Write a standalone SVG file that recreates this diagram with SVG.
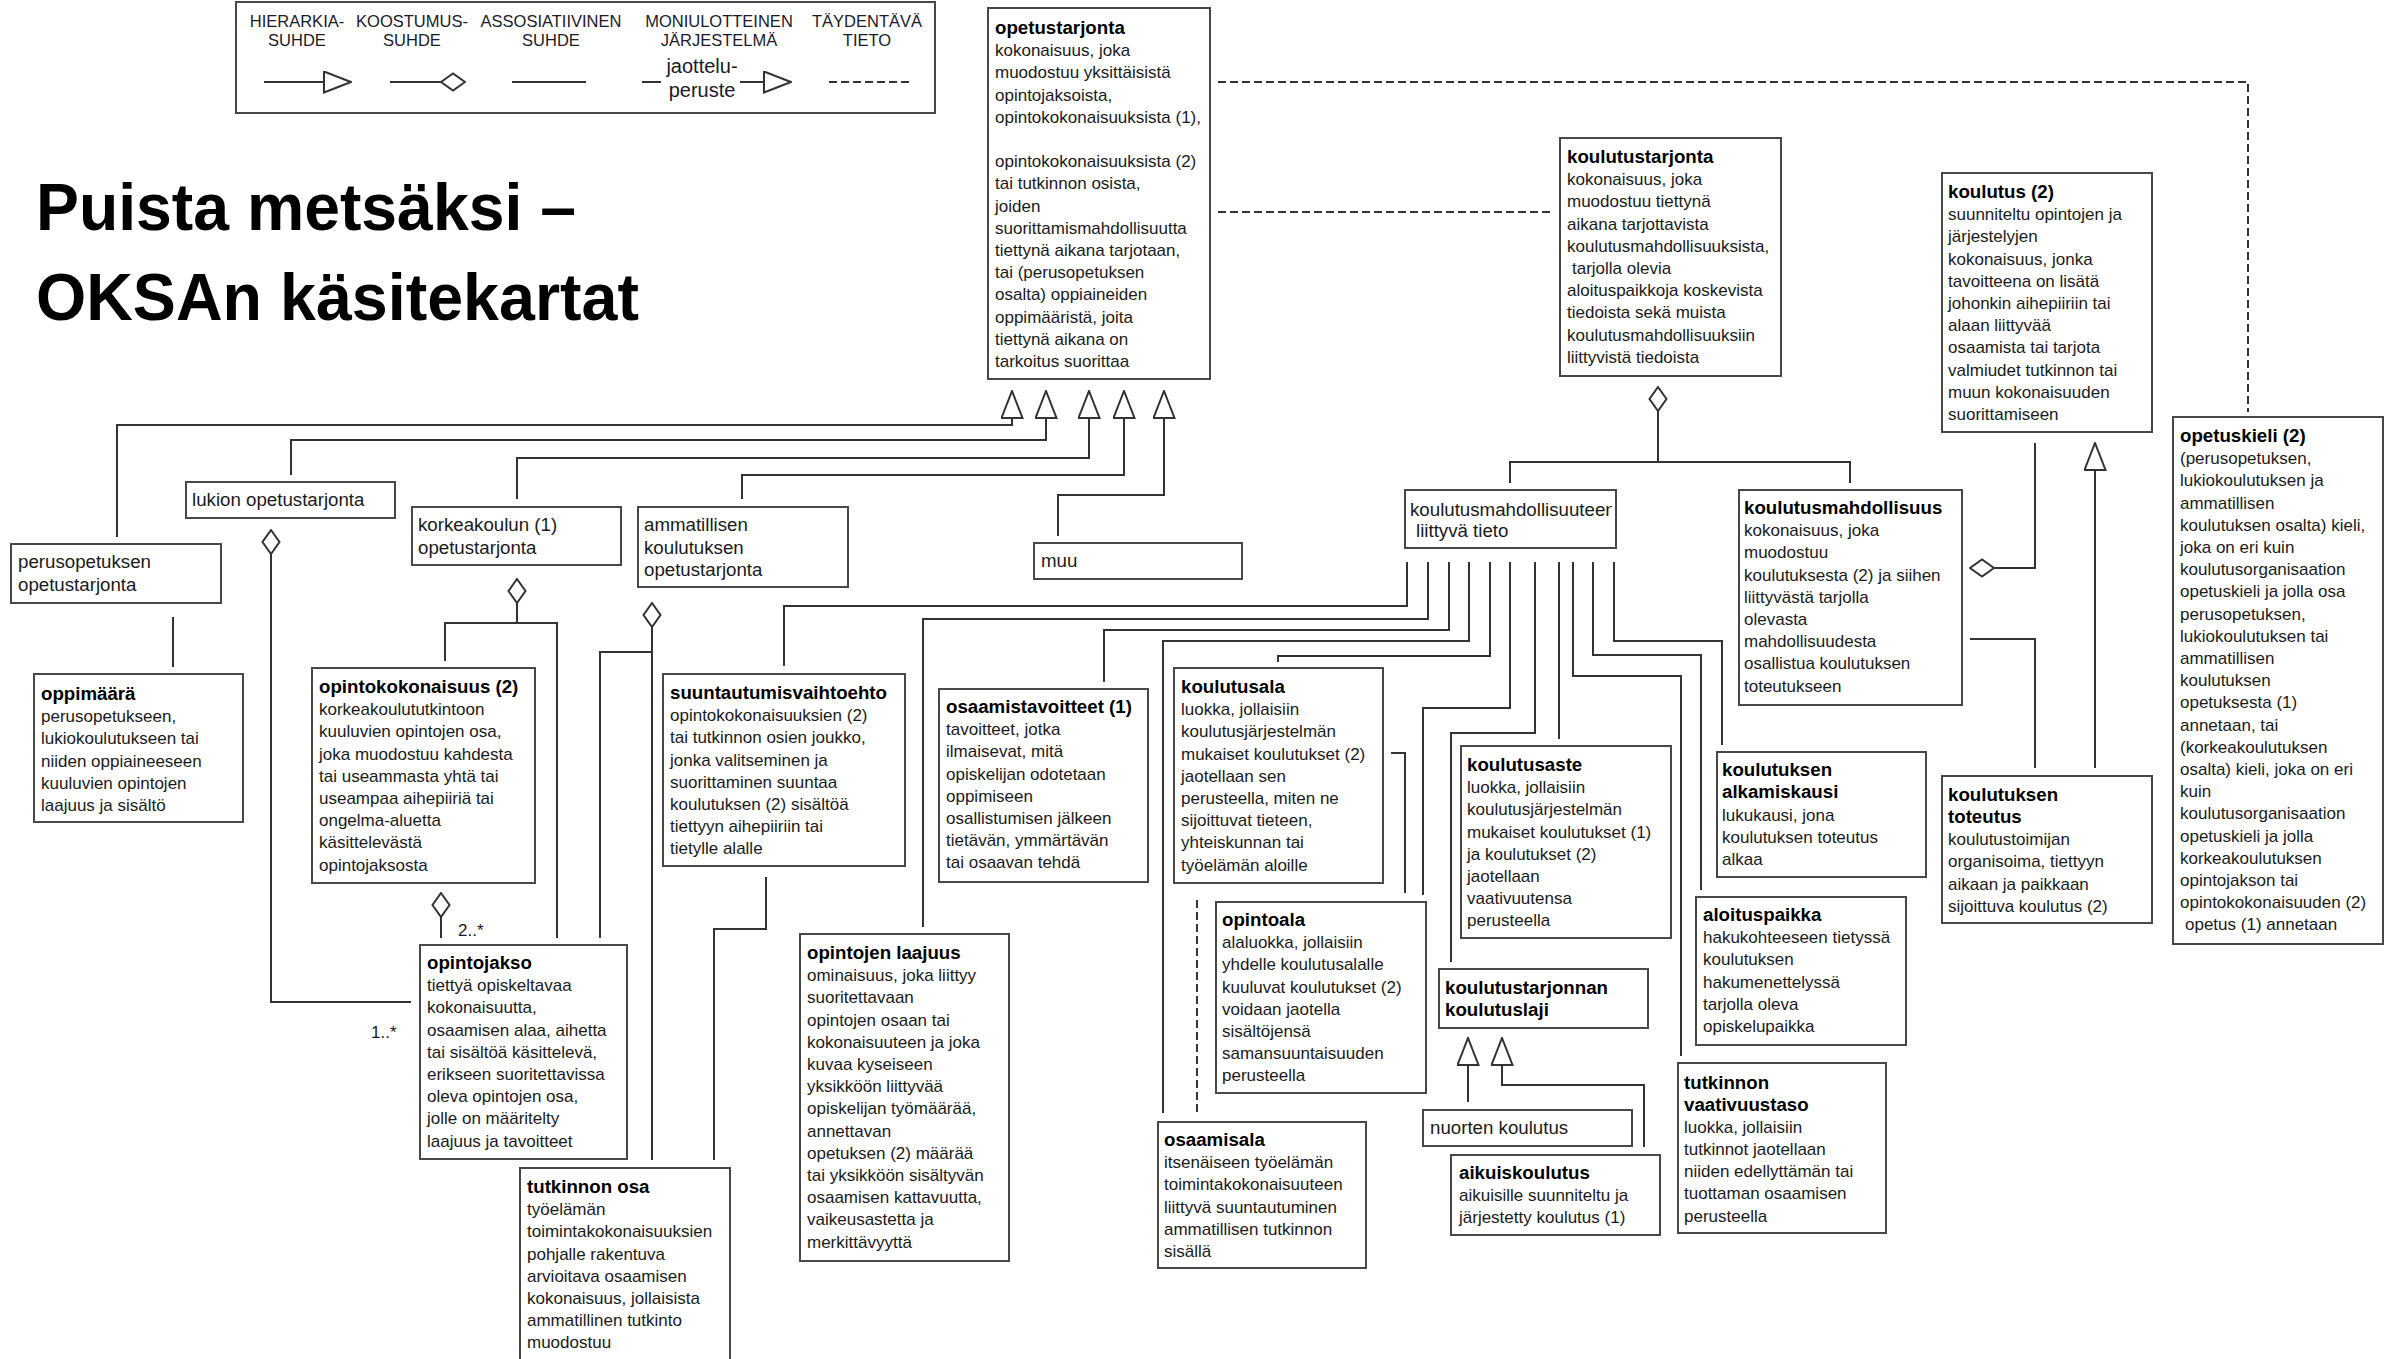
<svg xmlns="http://www.w3.org/2000/svg" width="2392" height="1359" viewBox="0 0 2392 1359">
<defs>
<style>
.box{fill:#fff;stroke:#484848;stroke-width:2}
.t{font-family:"Liberation Sans",Arial,sans-serif;font-size:17px;fill:#1a1a1a}
.l{font-size:18.7px}
.b{font-weight:bold;font-size:18.7px;fill:#000}
.lg{font-family:"Liberation Sans",Arial,sans-serif;font-size:16.5px;fill:#1a1a2a;text-anchor:middle}
.c{fill:none;stroke:#333;stroke-width:2}
.d{fill:none;stroke:#333;stroke-width:2;stroke-dasharray:8,4}
.ttl{font-family:"Liberation Sans",Arial,sans-serif;font-weight:bold;font-size:66px;fill:#000}
</style>
<marker id="tri" viewBox="0 0 29 23" refX="28" refY="11.5" markerWidth="29" markerHeight="23" orient="auto" markerUnits="userSpaceOnUse">
<path d="M1,1 L28,11.5 L1,22 Z" fill="#fff" stroke="#333" stroke-width="2"/>
</marker>
<marker id="dia" viewBox="0 0 26 20" refX="1" refY="10" markerWidth="26" markerHeight="20" orient="auto" markerUnits="userSpaceOnUse">
<path d="M1,10 L13,1.5 L25,10 L13,18.5 Z" fill="#fff" stroke="#333" stroke-width="2"/>
</marker>
<clipPath id="kmclip"><rect x="1405" y="490" width="207" height="58"/></clipPath>
</defs>
<rect width="2392" height="1359" fill="#fff"/>

<g id="legend">
<rect class="box" x="236" y="2" width="699" height="111"/>
<text class="lg" x="297" y="27">HIERARKIA-</text>
<text class="lg" x="297" y="46">SUHDE</text>
<text class="lg" x="412" y="27">KOOSTUMUS-</text>
<text class="lg" x="412" y="46">SUHDE</text>
<text class="lg" x="551" y="27">ASSOSIATIIVINEN</text>
<text class="lg" x="551" y="46">SUHDE</text>
<text class="lg" x="719" y="27">MONIULOTTEINEN</text>
<text class="lg" x="719" y="46">JÄRJESTELMÄ</text>
<text class="lg" x="867" y="27">TÄYDENTÄVÄ</text>
<text class="lg" x="867" y="46">TIETO</text>
<text class="lg" x="702" y="73" style="font-size:20px">jaottelu-</text>
<text class="lg" x="702" y="97" style="font-size:20px">peruste</text>
<path class="c" d="M264,82 H351" marker-end="url(#tri)"/>
<path class="c" d="M465,82 H390" marker-start="url(#dia)"/>
<path class="c" d="M512,82 H586"/>
<path class="c" d="M642,82 H661"/>
<path class="c" d="M740,82 H791" marker-end="url(#tri)"/>
<path class="d" d="M829,82 H912"/>
</g>

<g id="title">
<text class="ttl" x="36" y="230" textLength="540" lengthAdjust="spacingAndGlyphs">Puista metsäksi –</text>
<text class="ttl" x="36" y="320" textLength="603" lengthAdjust="spacingAndGlyphs">OKSAn käsitekartat</text>
</g>

<g id="connectors">
<path class="c" d="M117,537 V425 H1012 V391" marker-end="url(#tri)"/>
<path class="c" d="M291,475 V440 H1046 V391" marker-end="url(#tri)"/>
<path class="c" d="M517,499 V458 H1089 V391" marker-end="url(#tri)"/>
<path class="c" d="M742,499 V475 H1124 V391" marker-end="url(#tri)"/>
<path class="c" d="M1058,536 V495 H1164 V391" marker-end="url(#tri)"/>
<path class="d" d="M1218,82 H2248 V412"/>
<path class="d" d="M1218,212 H1551"/>
<path class="c" d="M1658,387 V462" marker-start="url(#dia)"/>
<path class="c" d="M1510,483 V462 H1850 V483"/>
<path class="c" d="M173,617 V667"/>
<path class="c" d="M271,530 V1002 H411" marker-start="url(#dia)"/>
<path class="c" d="M517,579 V623" marker-start="url(#dia)"/>
<path class="c" d="M445,661 V623 H557 V938"/>
<path class="c" d="M441,893 V938" marker-start="url(#dia)"/>
<path class="c" d="M652,603 V1160" marker-start="url(#dia)"/>
<path class="c" d="M652,652 H600 V938"/>
<path class="c" d="M766,877 V929 H714 V1160"/>
<path class="c" d="M1407,562 V606 H784 V666"/>
<path class="c" d="M1428,562 V619 H923 V927"/>
<path class="c" d="M1449,562 V630 H1104 V682"/>
<path class="c" d="M1469,562 V641 H1163 V1113"/>
<path class="c" d="M1490,562 V656 H1278 V662"/>
<path class="c" d="M1510,562 V708 H1423 V895"/>
<path class="c" d="M1535,562 V733 H1451 V962"/>
<path class="c" d="M1559,562 V739"/>
<path class="c" d="M1573,562 V676 H1681 V1056"/>
<path class="c" d="M1593,562 V655 H1701 V890"/>
<path class="c" d="M1614,562 V641 H1722 V745"/>
<path class="c" d="M1391,753 H1405 V893"/>
<path class="d" d="M1197,900 V1113"/>
<path class="c" d="M1468,1102 V1038" marker-end="url(#tri)"/>
<path class="c" d="M1644,1147 V1085 H1502 V1038" marker-end="url(#tri)"/>
<path class="c" d="M1970,568 H2035 V443" marker-start="url(#dia)"/>
<path class="c" d="M2095,768 V443" marker-end="url(#tri)"/>
<path class="c" d="M1970,639 H2035 V768"/>
<text class="t" x="371" y="1038">1..*</text>
<text class="t" x="458" y="936">2..*</text>
</g>

<g id="opetustarjonta">
<rect class="box" x="988" y="8" width="222" height="371"/>
<text class="t" x="995" y="34"><tspan class="b">opetustarjonta</tspan><tspan x="995" dy="22.2">kokonaisuus, joka</tspan><tspan x="995" dy="22.2">muodostuu yksittäisistä</tspan><tspan x="995" dy="22.2">opintojaksoista,</tspan><tspan x="995" dy="22.2">opintokokonaisuuksista (1),</tspan><tspan x="995" dy="44.4">opintokokonaisuuksista (2)</tspan><tspan x="995" dy="22.2">tai tutkinnon osista,</tspan><tspan x="995" dy="22.2">joiden</tspan><tspan x="995" dy="22.2">suorittamismahdollisuutta</tspan><tspan x="995" dy="22.2">tiettynä aikana tarjotaan,</tspan><tspan x="995" dy="22.2">tai (perusopetuksen</tspan><tspan x="995" dy="22.2">osalta) oppiaineiden</tspan><tspan x="995" dy="22.2">oppimääristä, joita</tspan><tspan x="995" dy="22.2">tiettynä aikana on</tspan><tspan x="995" dy="22.2">tarkoitus suorittaa</tspan></text>
</g>

<g id="koulutustarjonta">
<rect class="box" x="1560" y="138" width="221" height="238"/>
<text class="t" x="1567" y="163"><tspan class="b">koulutustarjonta</tspan><tspan x="1567" dy="22.2">kokonaisuus, joka</tspan><tspan x="1567" dy="22.2">muodostuu tiettynä</tspan><tspan x="1567" dy="22.2">aikana tarjottavista</tspan><tspan x="1567" dy="22.2">koulutusmahdollisuuksista,</tspan><tspan x="1572" dy="22.2">tarjolla olevia</tspan><tspan x="1567" dy="22.2">aloituspaikkoja koskevista</tspan><tspan x="1567" dy="22.2">tiedoista sekä muista</tspan><tspan x="1567" dy="22.2">koulutusmahdollisuuksiin</tspan><tspan x="1567" dy="22.2">liittyvistä tiedoista</tspan></text>
</g>

<g id="koulutus2">
<rect class="box" x="1942" y="173" width="210" height="259"/>
<text class="t" x="1948" y="198"><tspan class="b">koulutus (2)</tspan><tspan x="1948" dy="22.2">suunniteltu opintojen ja</tspan><tspan x="1948" dy="22.2">järjestelyjen</tspan><tspan x="1948" dy="22.2">kokonaisuus, jonka</tspan><tspan x="1948" dy="22.2">tavoitteena on lisätä</tspan><tspan x="1948" dy="22.2">johonkin aihepiiriin tai</tspan><tspan x="1948" dy="22.2">alaan liittyvää</tspan><tspan x="1948" dy="22.2">osaamista tai tarjota</tspan><tspan x="1948" dy="22.2">valmiudet tutkinnon tai</tspan><tspan x="1948" dy="22.2">muun kokonaisuuden</tspan><tspan x="1948" dy="22.2">suorittamiseen</tspan></text>
</g>

<g id="opetuskieli">
<rect class="box" x="2173" y="417" width="210" height="527"/>
<text class="t" x="2180" y="442"><tspan class="b">opetuskieli (2)</tspan><tspan x="2180" dy="22.2">(perusopetuksen,</tspan><tspan x="2180" dy="22.2">lukiokoulutuksen ja</tspan><tspan x="2180" dy="22.2">ammatillisen</tspan><tspan x="2180" dy="22.2">koulutuksen osalta) kieli,</tspan><tspan x="2180" dy="22.2">joka on eri kuin</tspan><tspan x="2180" dy="22.2">koulutusorganisaation</tspan><tspan x="2180" dy="22.2">opetuskieli ja jolla osa</tspan><tspan x="2180" dy="22.2">perusopetuksen,</tspan><tspan x="2180" dy="22.2">lukiokoulutuksen tai</tspan><tspan x="2180" dy="22.2">ammatillisen</tspan><tspan x="2180" dy="22.2">koulutuksen</tspan><tspan x="2180" dy="22.2">opetuksesta (1)</tspan><tspan x="2180" dy="22.2">annetaan, tai</tspan><tspan x="2180" dy="22.2">(korkeakoulutuksen</tspan><tspan x="2180" dy="22.2">osalta) kieli, joka on eri</tspan><tspan x="2180" dy="22.2">kuin</tspan><tspan x="2180" dy="22.2">koulutusorganisaation</tspan><tspan x="2180" dy="22.2">opetuskieli ja jolla</tspan><tspan x="2180" dy="22.2">korkeakoulutuksen</tspan><tspan x="2180" dy="22.2">opintojakson tai</tspan><tspan x="2180" dy="22.2">opintokokonaisuuden (2)</tspan><tspan x="2185" dy="22.2">opetus (1) annetaan</tspan></text>
</g>

<g id="perusopetuksen-opetustarjonta">
<rect class="box" x="11" y="544" width="210" height="59"/>
<text class="t l" x="18" y="568"><tspan>perusopetuksen</tspan><tspan x="18" dy="22.8">opetustarjonta</tspan></text>
</g>

<g id="lukion-opetustarjonta">
<rect class="box" x="186" y="482" width="209" height="36"/>
<text class="t l" x="192" y="506">lukion opetustarjonta</text>
</g>

<g id="korkeakoulun-opetustarjonta">
<rect class="box" x="412" y="507" width="209" height="58"/>
<text class="t l" x="418" y="531"><tspan>korkeakoulun (1)</tspan><tspan x="418" dy="22.8">opetustarjonta</tspan></text>
</g>

<g id="ammatillisen-opetustarjonta">
<rect class="box" x="638" y="507" width="210" height="80"/>
<text class="t l" x="644" y="531"><tspan>ammatillisen</tspan><tspan x="644" dy="22.6">koulutuksen</tspan><tspan x="644" dy="22.6">opetustarjonta</tspan></text>
</g>

<g id="muu">
<rect class="box" x="1034" y="543" width="208" height="36"/>
<text class="t l" x="1041" y="567">muu</text>
</g>

<g id="koulutusmahdollisuuteen-liittyva-tieto">
<rect class="box" x="1405" y="490" width="211" height="58"/>
<text class="t l" x="1410" y="516" clip-path="url(#kmclip)">koulutusmahdollisuuteen</text>
<text class="t l" x="1416" y="537">liittyvä tieto</text>
</g>

<g id="oppimaara">
<rect class="box" x="34" y="674" width="209" height="148"/>
<text class="t" x="41" y="700"><tspan class="b">oppimäärä</tspan><tspan x="41" dy="22.2">perusopetukseen,</tspan><tspan x="41" dy="22.2">lukiokoulutukseen tai</tspan><tspan x="41" dy="22.2">niiden oppiaineeseen</tspan><tspan x="41" dy="22.2">kuuluvien opintojen</tspan><tspan x="41" dy="22.2">laajuus ja sisältö</tspan></text>
</g>

<g id="opintokokonaisuus2">
<rect class="box" x="312" y="668" width="223" height="215"/>
<text class="t" x="319" y="693"><tspan class="b">opintokokonaisuus (2)</tspan><tspan x="319" dy="22.2">korkeakoulututkintoon</tspan><tspan x="319" dy="22.2">kuuluvien opintojen osa,</tspan><tspan x="319" dy="22.2">joka muodostuu kahdesta</tspan><tspan x="319" dy="22.2">tai useammasta yhtä tai</tspan><tspan x="319" dy="22.2">useampaa aihepiiriä tai</tspan><tspan x="319" dy="22.2">ongelma-aluetta</tspan><tspan x="319" dy="22.2">käsittelevästä</tspan><tspan x="319" dy="22.2">opintojaksosta</tspan></text>
</g>

<g id="opintojakso">
<rect class="box" x="420" y="945" width="207" height="214"/>
<text class="t" x="427" y="969"><tspan class="b">opintojakso</tspan><tspan x="427" dy="22.2">tiettyä opiskeltavaa</tspan><tspan x="427" dy="22.2">kokonaisuutta,</tspan><tspan x="427" dy="22.2">osaamisen alaa, aihetta</tspan><tspan x="427" dy="22.2">tai sisältöä käsittelevä,</tspan><tspan x="427" dy="22.2">erikseen suoritettavissa</tspan><tspan x="427" dy="22.2">oleva opintojen osa,</tspan><tspan x="427" dy="22.2">jolle on määritelty</tspan><tspan x="427" dy="22.2">laajuus ja tavoitteet</tspan></text>
</g>

<g id="tutkinnon-osa">
<rect class="box" x="520" y="1168" width="210" height="210"/>
<text class="t" x="527" y="1193"><tspan class="b">tutkinnon osa</tspan><tspan x="527" dy="22.2">työelämän</tspan><tspan x="527" dy="22.2">toimintakokonaisuuksien</tspan><tspan x="527" dy="22.2">pohjalle rakentuva</tspan><tspan x="527" dy="22.2">arvioitava osaamisen</tspan><tspan x="527" dy="22.2">kokonaisuus, jollaisista</tspan><tspan x="527" dy="22.2">ammatillinen tutkinto</tspan><tspan x="527" dy="22.2">muodostuu</tspan></text>
</g>

<g id="suuntautumisvaihtoehto">
<rect class="box" x="663" y="674" width="242" height="192"/>
<text class="t" x="670" y="699"><tspan class="b">suuntautumisvaihtoehto</tspan><tspan x="670" dy="22.2">opintokokonaisuuksien (2)</tspan><tspan x="670" dy="22.2">tai tutkinnon osien joukko,</tspan><tspan x="670" dy="22.2">jonka valitseminen ja</tspan><tspan x="670" dy="22.2">suorittaminen suuntaa</tspan><tspan x="670" dy="22.2">koulutuksen (2) sisältöä</tspan><tspan x="670" dy="22.2">tiettyyn aihepiiriin tai</tspan><tspan x="670" dy="22.2">tietylle alalle</tspan></text>
</g>

<g id="osaamistavoitteet">
<rect class="box" x="939" y="689" width="209" height="193"/>
<text class="t" x="946" y="713"><tspan class="b">osaamistavoitteet (1)</tspan><tspan x="946" dy="22.2">tavoitteet, jotka</tspan><tspan x="946" dy="22.2">ilmaisevat, mitä</tspan><tspan x="946" dy="22.2">opiskelijan odotetaan</tspan><tspan x="946" dy="22.2">oppimiseen</tspan><tspan x="946" dy="22.2">osallistumisen jälkeen</tspan><tspan x="946" dy="22.2">tietävän, ymmärtävän</tspan><tspan x="946" dy="22.2">tai osaavan tehdä</tspan></text>
</g>

<g id="opintojen-laajuus">
<rect class="box" x="800" y="934" width="209" height="327"/>
<text class="t" x="807" y="959"><tspan class="b">opintojen laajuus</tspan><tspan x="807" dy="22.2">ominaisuus, joka liittyy</tspan><tspan x="807" dy="22.2">suoritettavaan</tspan><tspan x="807" dy="22.2">opintojen osaan tai</tspan><tspan x="807" dy="22.2">kokonaisuuteen ja joka</tspan><tspan x="807" dy="22.2">kuvaa kyseiseen</tspan><tspan x="807" dy="22.2">yksikköön liittyvää</tspan><tspan x="807" dy="22.2">opiskelijan työmäärää,</tspan><tspan x="807" dy="22.2">annettavan</tspan><tspan x="807" dy="22.2">opetuksen (2) määrää</tspan><tspan x="807" dy="22.2">tai yksikköön sisältyvän</tspan><tspan x="807" dy="22.2">osaamisen kattavuutta,</tspan><tspan x="807" dy="22.2">vaikeusastetta ja</tspan><tspan x="807" dy="22.2">merkittävyyttä</tspan></text>
</g>

<g id="koulutusala">
<rect class="box" x="1174" y="668" width="209" height="215"/>
<text class="t" x="1181" y="693"><tspan class="b">koulutusala</tspan><tspan x="1181" dy="22.2">luokka, jollaisiin</tspan><tspan x="1181" dy="22.2">koulutusjärjestelmän</tspan><tspan x="1181" dy="22.2">mukaiset koulutukset (2)</tspan><tspan x="1181" dy="22.2">jaotellaan sen</tspan><tspan x="1181" dy="22.2">perusteella, miten ne</tspan><tspan x="1181" dy="22.2">sijoittuvat tieteen,</tspan><tspan x="1181" dy="22.2">yhteiskunnan tai</tspan><tspan x="1181" dy="22.2">työelämän aloille</tspan></text>
</g>

<g id="osaamisala">
<rect class="box" x="1158" y="1122" width="208" height="146"/>
<text class="t" x="1164" y="1146"><tspan class="b">osaamisala</tspan><tspan x="1164" dy="22.2">itsenäiseen työelämän</tspan><tspan x="1164" dy="22.2">toimintakokonaisuuteen</tspan><tspan x="1164" dy="22.2">liittyvä suuntautuminen</tspan><tspan x="1164" dy="22.2">ammatillisen tutkinnon</tspan><tspan x="1164" dy="22.2">sisällä</tspan></text>
</g>

<g id="opintoala">
<rect class="box" x="1216" y="902" width="210" height="191"/>
<text class="t" x="1222" y="926"><tspan class="b">opintoala</tspan><tspan x="1222" dy="22.2">alaluokka, jollaisiin</tspan><tspan x="1222" dy="22.2">yhdelle koulutusalalle</tspan><tspan x="1222" dy="22.2">kuuluvat koulutukset (2)</tspan><tspan x="1222" dy="22.2">voidaan jaotella</tspan><tspan x="1222" dy="22.2">sisältöjensä</tspan><tspan x="1222" dy="22.2">samansuuntaisuuden</tspan><tspan x="1222" dy="22.2">perusteella</tspan></text>
</g>

<g id="koulutusaste">
<rect class="box" x="1461" y="746" width="210" height="192"/>
<text class="t" x="1467" y="771"><tspan class="b">koulutusaste</tspan><tspan x="1467" dy="22.2">luokka, jollaisiin</tspan><tspan x="1467" dy="22.2">koulutusjärjestelmän</tspan><tspan x="1467" dy="22.2">mukaiset koulutukset (1)</tspan><tspan x="1467" dy="22.2">ja koulutukset (2)</tspan><tspan x="1467" dy="22.2">jaotellaan</tspan><tspan x="1467" dy="22.2">vaativuutensa</tspan><tspan x="1467" dy="22.2">perusteella</tspan></text>
</g>

<g id="koulutustarjonnan-koulutuslaji">
<rect class="box" x="1439" y="969" width="209" height="59"/>
<text class="t b" x="1445" y="994"><tspan>koulutustarjonnan</tspan><tspan x="1445" dy="22.2">koulutuslaji</tspan></text>
</g>

<g id="nuorten-koulutus">
<rect class="box" x="1423" y="1110" width="209" height="36"/>
<text class="t l" x="1430" y="1134">nuorten koulutus</text>
</g>

<g id="aikuiskoulutus">
<rect class="box" x="1451" y="1155" width="209" height="80"/>
<text class="t" x="1459" y="1179"><tspan class="b">aikuiskoulutus</tspan><tspan x="1459" dy="22.2">aikuisille suunniteltu ja</tspan><tspan x="1459" dy="22.2">järjestetty koulutus (1)</tspan></text>
</g>

<g id="tutkinnon-vaativuustaso">
<rect class="box" x="1678" y="1063" width="208" height="170"/>
<text class="t" x="1684" y="1089"><tspan class="b">tutkinnon</tspan><tspan class="b" x="1684" dy="21.5">vaativuustaso</tspan><tspan x="1684" dy="22.2">luokka, jollaisiin</tspan><tspan x="1684" dy="22.2">tutkinnot jaotellaan</tspan><tspan x="1684" dy="22.2">niiden edellyttämän tai</tspan><tspan x="1684" dy="22.2">tuottaman osaamisen</tspan><tspan x="1684" dy="22.2">perusteella</tspan></text>
</g>

<g id="aloituspaikka">
<rect class="box" x="1696" y="897" width="210" height="148"/>
<text class="t" x="1703" y="921"><tspan class="b">aloituspaikka</tspan><tspan x="1703" dy="22.2">hakukohteeseen tietyssä</tspan><tspan x="1703" dy="22.2">koulutuksen</tspan><tspan x="1703" dy="22.2">hakumenettelyssä</tspan><tspan x="1703" dy="22.2">tarjolla oleva</tspan><tspan x="1703" dy="22.2">opiskelupaikka</tspan></text>
</g>

<g id="koulutuksen-alkamiskausi">
<rect class="box" x="1717" y="752" width="209" height="125"/>
<text class="t" x="1722" y="776"><tspan class="b">koulutuksen</tspan><tspan class="b" x="1722" dy="22">alkamiskausi</tspan><tspan x="1722" dy="22.5">lukukausi, jona</tspan><tspan x="1722" dy="22.2">koulutuksen toteutus</tspan><tspan x="1722" dy="22.2">alkaa</tspan></text>
</g>

<g id="koulutusmahdollisuus">
<rect class="box" x="1739" y="490" width="223" height="215"/>
<text class="t" x="1744" y="514"><tspan class="b">koulutusmahdollisuus</tspan><tspan x="1744" dy="22.2">kokonaisuus, joka</tspan><tspan x="1744" dy="22.2">muodostuu</tspan><tspan x="1744" dy="22.2">koulutuksesta (2) ja siihen</tspan><tspan x="1744" dy="22.2">liittyvästä tarjolla</tspan><tspan x="1744" dy="22.2">olevasta</tspan><tspan x="1744" dy="22.2">mahdollisuudesta</tspan><tspan x="1744" dy="22.2">osallistua koulutuksen</tspan><tspan x="1744" dy="22.2">toteutukseen</tspan></text>
</g>

<g id="koulutuksen-toteutus">
<rect class="box" x="1942" y="776" width="210" height="147"/>
<text class="t" x="1948" y="801"><tspan class="b">koulutuksen</tspan><tspan class="b" x="1948" dy="22">toteutus</tspan><tspan x="1948" dy="22.2">koulutustoimijan</tspan><tspan x="1948" dy="22.2">organisoima, tiettyyn</tspan><tspan x="1948" dy="22.2">aikaan ja paikkaan</tspan><tspan x="1948" dy="22.2">sijoittuva koulutus (2)</tspan></text>
</g>
</svg>
